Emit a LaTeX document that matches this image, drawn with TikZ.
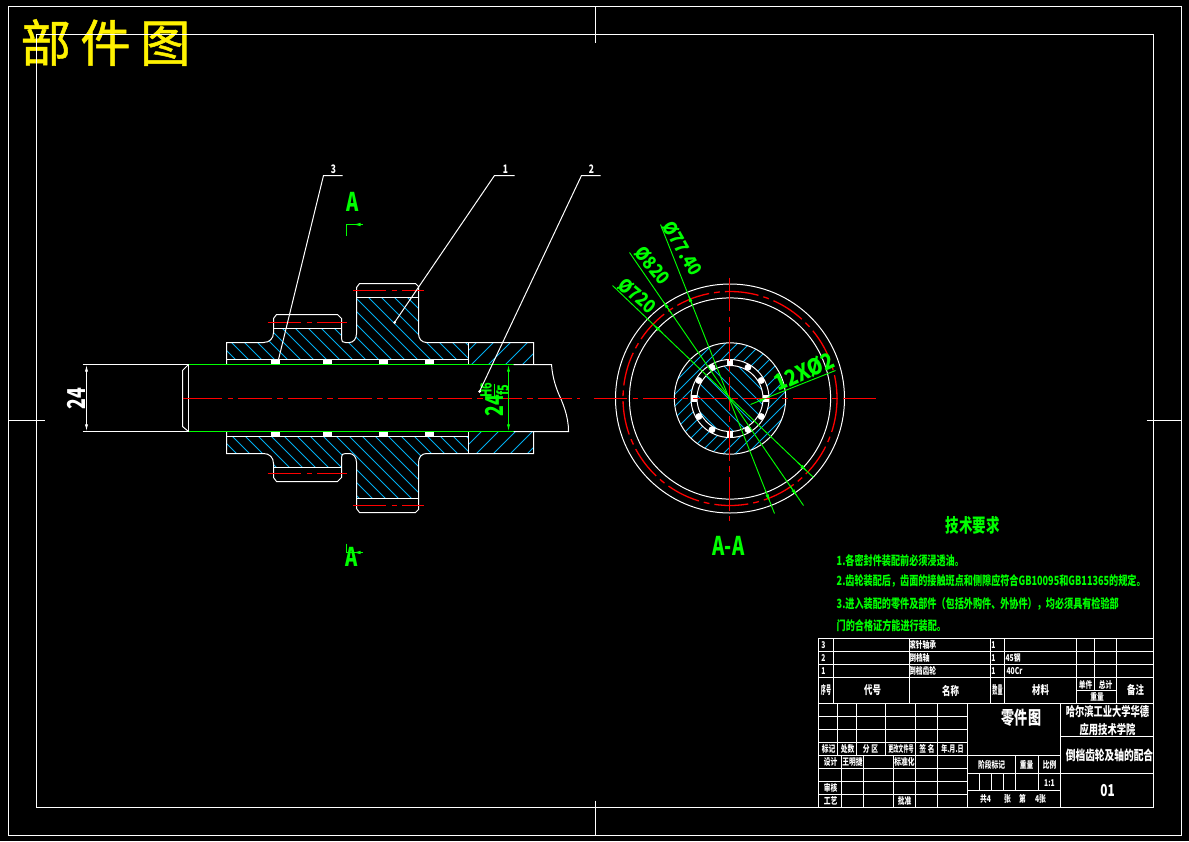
\documentclass[tikz,border=0pt]{standalone}
\usepackage{fontspec}
\usepackage{amsmath}
\usetikzlibrary{arrows.meta,calc}
\newfontfamily\cadfont[FakeStretch=0.72]{Noto Sans CJK SC}
\newfontfamily\dimfont[FakeStretch=0.88]{Noto Sans CJK SC}
\newfontfamily\bannerfont[FakeBold=1]{Noto Sans CJK SC}

\tikzset{
    part/.style={white, line width=0.85pt},
    centre/.style={red, line width=1.1pt, dash pattern=on 29pt off 4.3pt on 5pt off 4.3pt},
    hatch/.style={cyan, line width=0.85pt},
    dimline/.style={green, line width=0.8pt},
    dimtip/.style={green, line width=0.8pt, -{Latex[length=7pt,width=3pt]}},
    dimtext/.style={green, inner sep=0, font=\dimfont\bfseries\fontsize{16}{16}\selectfont},
    sectext/.style={green, inner sep=0, font=\cadfont\bfseries\fontsize{22}{22}\selectfont},
    reqtext/.style={green, inner sep=0, anchor=west, font=\cadfont\bfseries\fontsize{10.8}{12}\selectfont},
    sheetline/.style={white, line width=0.85pt},
    sheettext/.style={white, inner sep=0, font=\cadfont\bfseries\fontsize{8}{8}\selectfont},
    headtext/.style={white, inner sep=0, font=\cadfont\bfseries\fontsize{10}{10}\selectfont},
    leadtext/.style={white, inner sep=0, font=\cadfont\bfseries\fontsize{10}{10}\selectfont}
}

% upper half of the hub, #1 and #2 set the slope of the hatching
\newcommand{\hubhalf}[2]{
    \begin{scope}
        \clip (226,359) -- (226,342) -- (263,342) .. controls (269,342) and (273,338) .. (273,332) -- (273,328) -- (341,328) -- (341,338) .. controls (341,341) and (342,342) .. (345,342) -- (349,342) .. controls (353,342) and (356,338) .. (356,333) -- (356,297) -- (418,297) -- (418,333) .. controls (418,338) and (421,342) .. (426,342) -- (468,342) -- (468,359) -- cycle;
        \foreach \c in {130,143,...,470}
            \draw[hatch] (\c+#1,280) -- (\c+#2,370);
    \end{scope}
    \begin{scope}
        \clip (468,342) rectangle (533,364);
        \foreach \c in {380,397,...,540}
            \draw[hatch] (\c+#2,280) -- (\c+#1,370);
    \end{scope}
    \draw[part] (226,364) -- (226,342) -- (263,342) .. controls (269,342) and (273,338) .. (273,332) -- (273,318) -- (276,314) -- (337,314) -- (341,318) -- (341,338) .. controls (341,341) and (342,342) .. (345,342) -- (349,342) .. controls (353,342) and (356,338) .. (356,333) -- (356,287) -- (359,283) -- (415,283) -- (418,286) -- (418,333) .. controls (418,338) and (421,342) .. (426,342) -- (533,342) -- (533,364);
    \draw[part] (226,359) -- (468,359);
    \draw[part] (468,342) -- (468,364);
    \draw[part] (273,328) -- (341,328);
    \draw[part] (356,297) -- (418,297);
    \foreach \k in {270,322,378,424}
        \fill[white] (\k,359) rectangle (\k+9.5,364);
    \draw[centre] (267,322) -- (346,322);
    \draw[centre] (352,290) -- (423,290);
}

\begin{document}
\begin{tikzpicture}[x=0.03cm,y=-0.03cm,shift={(0.5,0.5)}]
    % Sheet
    \fill[black] (-0.5,-0.5) rectangle (1188.5,840.5);
    \node[yellow, inner sep=0, font=\bannerfont\fontsize{43}{43}\selectfont] (banner) at (105,42) {部\hspace{8pt}件\hspace{8pt}图};
    \draw[part] (8,6) rectangle (1181,835);
    \draw[part] (36,34) rectangle (1153,807);
    \draw[part] (595,6) -- (595,42);
    \draw[part] (595,800) -- (595,835);
    \draw[part] (8,420) -- (44,420);
    \draw[part] (1146,420) -- (1181,420);

    % Hub, both halves
    \hubhalf{0}{90}
    \begin{scope}[shift={(0,795)},yscale=-1]
        \hubhalf{90}{0}
    \end{scope}

    % Shaft
    \draw[part] (82,364) -- (188,364);
    \draw[part] (82,431) -- (188,431);
    \draw[part] (188,364) -- (188,431);
    \draw[part] (188,364) -- (182,370) -- (182,426) -- (188,431);
    \draw[green, line width=0.85pt] (188,364) -- (513,364);
    \draw[green, line width=0.85pt] (188,431) -- (513,431);
    \draw[part] (513,364) -- (551,364) .. controls (552,378) and (556,388) .. (558,393) .. controls (562,402) and (568,415) .. (568,431) -- (513,431);
    \draw[red, line width=1.1pt] (182,398) -- (188,398);
    \draw[centre] (188,398) -- (579,398);

    % Size on the left end
    \coordinate (shaftTop) at (86,364);
    \coordinate (shaftBot) at (86,431);
    \draw[part, {Latex[length=6pt,width=2.6pt]}-{Latex[length=6pt,width=2.6pt]}] (shaftTop) -- (shaftBot);
    \node[white, inner sep=0, rotate=90, font=\cadfont\bfseries\fontsize{21}{21}\selectfont] (sizeLeft) at (76,398) {24};

    % Fit on the hub
    \coordinate (fitTop) at (508,364);
    \coordinate (fitBot) at (508,431);
    \draw[dimline, {Latex[length=6pt,width=2.6pt]}-{Latex[length=6pt,width=2.6pt]}] (fitTop) -- (fitBot);
    \node[green, inner sep=0, rotate=90, font=\cadfont\bfseries\fontsize{21}{21}\selectfont] (fitSize) at (494,405) {24};
    \node[green, inner sep=0, rotate=90, font=\cadfont\bfseries\fontsize{13}{13}\selectfont] (fitHole) at (485.5,389.5) {H6};
    \node[green, inner sep=0, rotate=90, font=\cadfont\bfseries\fontsize{13}{13}\selectfont] (fitShaft) at (502,389.5) {f5};
    \draw[dimline] (494,383) -- (494,396);

    % Leaders
    \coordinate (endC) at (278,359);
    \coordinate (kneeC) at (323,175);
    \coordinate (tailC) at (342,175);
    \coordinate (endA) at (394,322);
    \coordinate (kneeA) at (494,175);
    \coordinate (tailA) at (514,175);
    \coordinate (endB) at (479,391);
    \coordinate (kneeB) at (581,175);
    \coordinate (tailB) at (600,175);
    \draw[part] (endC) -- (kneeC) -- (tailC);
    \draw[part] (endA) -- (kneeA) -- (tailA);
    \draw[part] (endB) -- (kneeB) -- (tailB);
    \fill[white] (endA) circle (1.5);
    \fill[white] (endB) circle (1.5);
    \node[leadtext] (numC) at (333,169) {3};
    \node[leadtext] (numA) at (505,169) {1};
    \node[leadtext] (numB) at (591,169) {2};

    % Section marks
    \node[sectext] (secTop) at (352,201) {A};
    \node[sectext] (secBot) at (351.5,556) {A};
    \coordinate (markTop) at (346,224);
    \coordinate (markBot) at (346,552);
    \draw[dimline] (346,235) -- (markTop) -- (362,224);
    \draw[dimline] (346,543) -- (markBot) -- (362,552);
    \draw[dimtip] (362,224) -- (352,224);
    \draw[dimtip] (362,552) -- (352,552);

    % End view
    \coordinate (cen) at (729.5,398);
    \begin{scope}
        \clip (cen) circle (33);
        \foreach \c in {560,574,...,800}
            \draw[hatch] (\c,300) -- (\c+200,500);
    \end{scope}
    \begin{scope}[even odd rule]
        \clip (cen) circle (55.7) (cen) circle (39);
        \foreach \c in {660,672,...,980}
            \draw[hatch] (\c,300) -- (\c-200,500);
    \end{scope}
    \draw[part] (cen) circle (114.5);
    \draw[part] (cen) circle (100.6);
    \draw[part] (cen) circle (55.7);
    \draw[part] (cen) circle (39);
    \draw[part] (cen) circle (33);
    \draw[centre] (cen) circle (107);
    \foreach \a in {30,60,120,150,210,240,300,330}
        \fill[white] (cen) ++(\a:36) circle (3.4);
    \foreach \a in {0,90,180,270}
        \fill[white] (cen) ++(\a:36) ++(-3.4,-3.4) rectangle ++(6.8,6.8);
    \draw[centre] (593,398) -- (875,398);
    \draw[centre] (729,277) -- (729,520);

    % Diameters
    \coordinate (leadInner) at (612,285);
    \coordinate (farInner) at (813,477);
    \coordinate (leadMid) at (629,252);
    \coordinate (farMid) at (803,505);
    \coordinate (leadPitch) at (660,224);
    \coordinate (farPitch) at (774,513);
    \draw[dimline] (leadInner) -- (farInner);
    \draw[dimline] (leadMid) -- (farMid);
    \draw[dimline] (leadPitch) -- (farPitch);
    \draw[dimtip] ($(leadInner)!0.25!(farInner)$) -- ($(leadInner)!0.2!(farInner)$);
    \draw[dimtip] ($(leadInner)!0.92!(farInner)$) -- ($(leadInner)!0.97!(farInner)$);
    \draw[dimtip] ($(leadMid)!0.24!(farMid)$) -- ($(leadMid)!0.19!(farMid)$);
    \draw[dimtip] ($(leadMid)!0.92!(farMid)$) -- ($(leadMid)!0.966!(farMid)$);
    \draw[dimtip] ($(leadPitch)!0.28!(farPitch)$) -- ($(leadPitch)!0.24!(farPitch)$);
    \draw[dimtip] ($(leadPitch)!0.92!(farPitch)$) -- ($(leadPitch)!0.962!(farPitch)$);
    \node[dimtext, rotate=-40] (diaInner) at (637,295) {Ø720};
    \node[dimtext, rotate=-50] (diaMid) at (652,265) {Ø820};
    \node[dimtext, rotate=-60] (diaPitch) at (682,248) {Ø77.40};

    % Holes
    \coordinate (holeStart) at (750,404);
    \coordinate (holeTip) at (767,397);
    \coordinate (holeEnd) at (835,370);
    \draw[dimtip] (holeStart) -- (holeTip);
    \draw[dimline] (holeTip) -- (holeEnd);
    \node[dimtext, rotate=24, font=\dimfont\bfseries\fontsize{19}{19}\selectfont] (holeSize) at (804,371) {12XØ2};

    \node[sectext] (secName) at (728,545) {A-A};

    % Requirements
    \node[green, inner sep=0, font=\cadfont\bfseries\fontsize{16}{16}\selectfont] (reqTitle) at (972,525) {技术要求};
    \node[reqtext] (reqA) at (836,560) {1.各密封件装配前必须浸透油。};
    \node[reqtext] (reqB) at (836,580) {2.齿轮装配后，齿面的接触斑点和侧隙应符合GB10095和GB11365的规定。};
    \node[reqtext] (reqC) at (836,603) {3.进入装配的零件及部件（包括外购件、外协件），均必须具有检验部};
    \node[reqtext] (reqD) at (836,625) {门的合格证方能进行装配。};

    % Title block
    \draw[sheetline] (818,638) rectangle (1153,807);
    \foreach \yy in {651,664,677,703}
        \draw[sheetline] (818,\yy) -- (1153,\yy);
    \foreach \xx in {833,909,990,1004,1076,1116}
        \draw[sheetline] (\xx,638) -- (\xx,703);
    \draw[sheetline] (1094,638) -- (1094,690);
    \draw[sheetline] (1076,690) -- (1116,690);
    \foreach \yy in {716,729,742,755,768,781,794}
        \draw[sheetline] (818,\yy) -- (967,\yy);
    \foreach \xx in {837,856,885,915,937}
        \draw[sheetline] (\xx,703) -- (\xx,755);
    \foreach \xx in {841,863,893,915,937}
        \draw[sheetline] (\xx,755) -- (\xx,807);
    \draw[sheetline] (967,703) -- (967,807);
    \draw[sheetline] (1060,703) -- (1060,807);
    \foreach \yy in {755,773,790}
        \draw[sheetline] (967,\yy) -- (1060,\yy);
    \foreach \xx in {979,991,1003}
        \draw[sheetline] (\xx,773) -- (\xx,790);
    \foreach \xx in {1015,1038}
        \draw[sheetline] (\xx,755) -- (\xx,790);
    \draw[sheetline] (1060,736) -- (1153,736);
    \draw[sheetline] (1060,773) -- (1153,773);

    \foreach \px/\py/\txt [count=\n] in {
        823/644.5/3, 823/657.5/2, 823/670.5/1,
        922/644.5/滚针轴承, 919/657.5/倒档轴, 922/670.5/倒档齿轮,
        993/644.5/1, 993/657.5/1, 993/670.5/1,
        1012.5/657.5/45钢, 1014/670.5/40Cr,
        1085/684/单件, 1105/684/总计, 1096.7/696.5/重量,
        828/748.5/标记, 847/748.5/处数, 870/748.5/分 区, 900.5/748.5/{\scalebox{.75}[1]{更改文件号}}, 926.5/748.5/签 名, 952/748.5/{\scalebox{.9}[1]{年.月.日}},
        830/761.5/设计, 852/761.5/王明捷, 904/761.5/标准化,
        830/787.5/审核, 830/800.5/工艺, 904/800.5/批准,
        991/764/阶段标记, 1026/764/重量, 1049/764/比例, 1049/782.5/1:1,
        985/798.5/共4, 1007/798.5/张, 1022/798.5/第, 1040/798.5/4张
    }
        \node[sheettext] (cell\n) at (\px,\py) {\txt};
    \foreach \px/\txt [count=\n] in {
        825.5/{\scalebox{.6}[1]{序号}}, 872/代号, 950/名称, 997/{\scalebox{.6}[1]{数量}}, 1040/材料, 1135/备注
    }
        \node[headtext] (head\n) at (\px,690) {\txt};
    \node[white, inner sep=0, font=\cadfont\bfseries\fontsize{15.5}{15.5}\selectfont] (sheetName) at (1021,717) {零件图};
    \node[white, inner sep=0, font=\cadfont\bfseries\fontsize{11}{11}\selectfont] (schoolA) at (1107,711.5) {哈尔滨工业大学华德};
    \node[white, inner sep=0, font=\cadfont\bfseries\fontsize{11}{11}\selectfont] (schoolB) at (1107,729) {应用技术学院};
    \node[white, inner sep=0, font=\cadfont\bfseries\fontsize{11.5}{11.5}\selectfont] (drawName) at (1109,755) {倒档齿轮及轴的配合};
    \node[white, inner sep=0, font=\cadfont\bfseries\fontsize{14}{14}\selectfont] (drawNo) at (1107,790) {01};
\end{tikzpicture}
\end{document}
